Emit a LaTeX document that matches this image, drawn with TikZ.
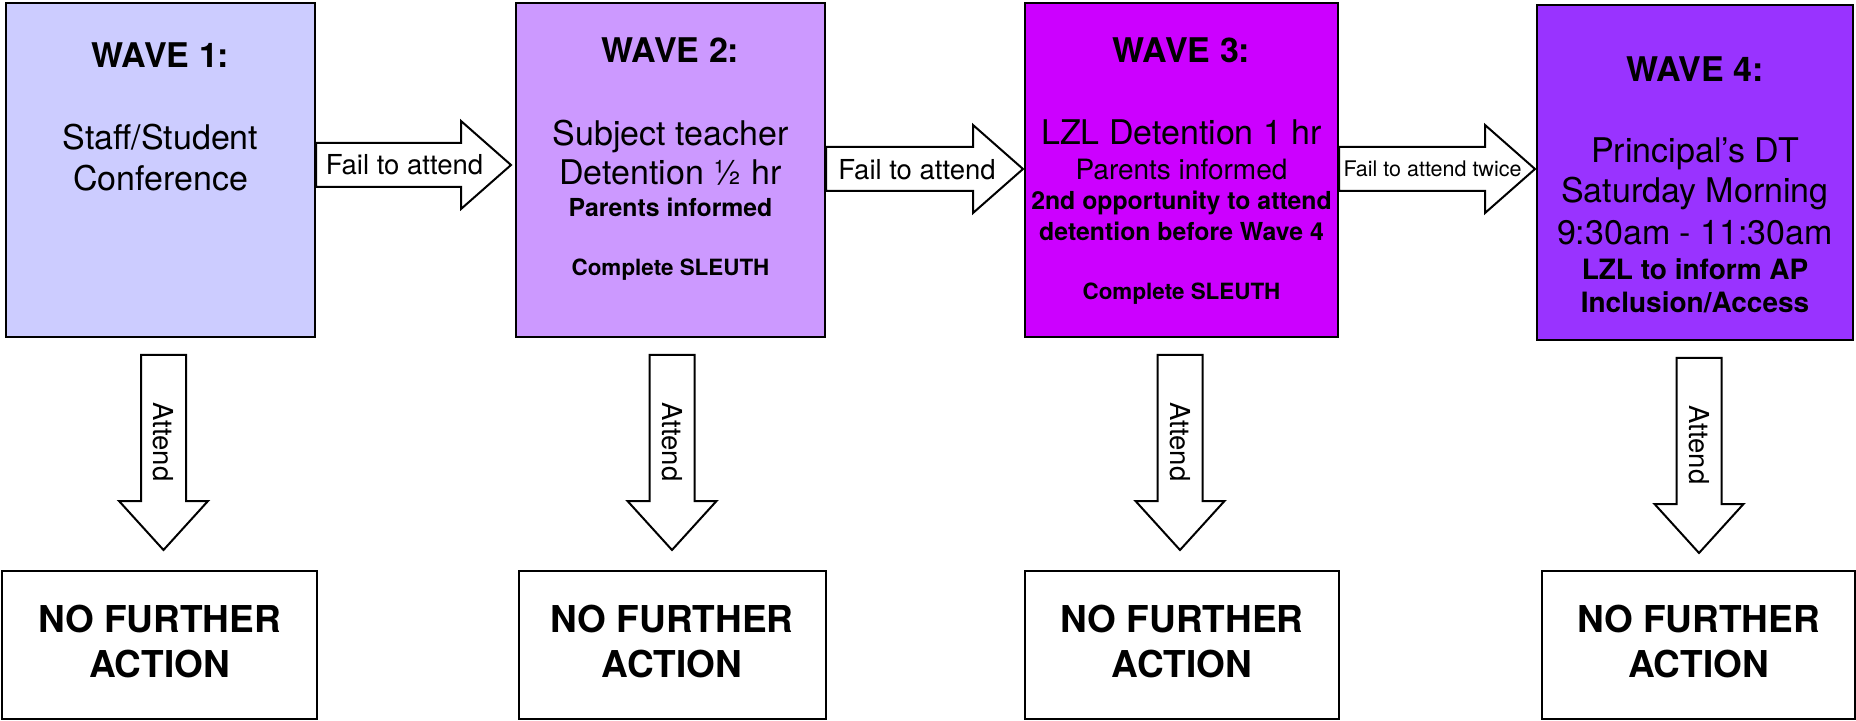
\documentclass[tikz,border=0pt]{standalone}
\usepackage{fontspec}
\setmainfont{TeX Gyre Heros}
\definecolor{waveone}{HTML}{CCCCFF}
\definecolor{wavetwo}{HTML}{CC99FF}
\definecolor{wavethree}{HTML}{CC00FF}
\definecolor{wavefour}{HTML}{9933FF}
\begin{document}
\begin{tikzpicture}[
            x=0.5pt, y=-0.5pt,
            wavebox/.style={draw, line width=1pt, inner sep=0pt, minimum height=167pt},
            nfabox/.style={draw, line width=1pt, fill=white, minimum height=74pt, align=center, text depth=3.5pt, font=\fontsize{18.5}{22.5}\selectfont\bfseries},
            blockarr/.style={draw, line width=1pt, fill=white},
            wavehead/.style={anchor=base, font=\fontsize{17}{20}\selectfont\bfseries},
            wavetext/.style={anchor=base, font=\fontsize{17}{20}\selectfont},
            subtext/.style={anchor=base, font=\fontsize{14}{16}\selectfont},
            note/.style={anchor=base, font=\fontsize{#1}{#1}\selectfont\bfseries},
            lbl/.style={anchor=base, font=\fontsize{13.75}{16}\selectfont}
        ]
        \useasboundingbox (0,0) rectangle (1856,721);

        % the four waves
        \node[wavebox, fill=waveone, minimum width=154.5pt] (w1) at (160.5,170) {};
        \node[wavebox, fill=wavetwo, minimum width=154.5pt] (w2) at (670.5,170) {};
        \node[wavebox, fill=wavethree, minimum width=156.5pt] (w3) at (1181.5,170) {};
        \node[wavebox, fill=wavefour, minimum width=158pt, minimum height=167.5pt] (w4) at (1695,172.5) {};

        % outcome boxes
        \node[nfabox, minimum width=157.5pt] (n1) at (159.5,645) {NO FURTHER\\ACTION};
        \node[nfabox, minimum width=153.5pt] (n2) at (672,645) {NO FURTHER\\ACTION};
        \node[nfabox, minimum width=157pt] (n3) at (1182,645) {NO FURTHER\\ACTION};
        \node[nfabox, minimum width=156.5pt] (n4) at (1698.5,645) {NO FURTHER\\ACTION};

        % fail arrows between waves
        \foreach \i/\j/\cy/\gap in {1/2/165/2pt, 2/3/169/0.5pt, 3/4/169/0.5pt} {
            \coordinate (e\j) at ([xshift=-\gap]w\j.west);
            \coordinate (tail\i) at (w\i.east |- 0,\cy);
            \coordinate (tip\i) at (e\j |- 0,\cy);
            \draw[blockarr] ([shift={(0,-22)}]tail\i) -- ([shift={(-50,-22)}]tip\i) -- ([shift={(-50,-44)}]tip\i)
                -- (tip\i) -- ([shift={(-50,44)}]tip\i) -- ([shift={(-50,22)}]tip\i) -- ([shift={(0,22)}]tail\i) -- cycle;
        }

        % attend arrows
        \foreach \i/\ax in {1/163.5, 2/672, 3/1180, 4/1699} {
            \coordinate (top\i) at (\ax,0 |- w\i.south);
            \draw[blockarr] ([shift={(-22.5,17)}]top\i) -- ++(0,146) -- ++(-22,0) -- ++(44.5,49)
                -- ++(44.5,-49) -- ++(-22,0) -- ++(0,-146) -- cycle;
            \node[lbl, anchor=center, rotate=-90] (att\i) at ([shift={(0,104)}]top\i) {Attend};
        }

        \node[lbl] (f1) at (404.5,175) {Fail to attend};
        \node[lbl] (f2) at (917,180) {Fail to attend};
        \node[lbl, font=\fontsize{10.75}{12}\selectfont] (f3) at (1432.5,177) {Fail to attend twice};

        % wave 1
        \node[wavehead] (h1) at (w1 |- 0,68) {WAVE 1:};
        \node[wavetext] (s1) at (w1 |- 0,150) {Staff/Student};
        \node[wavetext] (c1) at (w1 |- 0,191) {Conference};

        % wave 2
        \node[wavehead] (h2) at (w2 |- 0,63) {WAVE 2:};
        \node[wavetext] (s2) at (w2 |- 0,146) {Subject teacher};
        \node[wavetext] (d2) at (w2 |- 0,185) {Detention ½ hr};
        \node[note=12.4] (p2) at (w2 |- 0,217) {Parents informed};
        \node[note=11.2] (c2) at (w2 |- 0,276) {Complete SLEUTH};

        % wave 3
        \node[wavehead] (h3) at (w3 |- 0,63) {WAVE 3:};
        \node[wavetext] (d3) at (w3 |- 0,145) {LZL Detention 1 hr};
        \node[subtext] (p3) at (w3 |- 0,180) {Parents informed};
        \node[note=12.4] (o3) at (w3 |- 0,210) {2nd opportunity to attend};
        \node[note=12.4] (b3) at (w3 |- 0,241) {detention before Wave 4};
        \node[note=11.2] (c3) at (w3 |- 0,300) {Complete SLEUTH};

        % wave 4
        \node[wavehead] (h4) at (w4 |- 0,82) {WAVE 4:};
        \node[wavetext] (r4) at (w4 |- 0,163) {Principal’s DT};
        \node[wavetext] (m4) at (w4 |- 0,203) {Saturday Morning};
        \node[wavetext] (t4) at (w4 |- 0,245) {9:30am - 11:30am};
        \node[note=14] (l4) at (w4 |- 0,280) {LZL to inform AP};
        \node[note=14] (a4) at (w4 |- 0,313) {Inclusion/Access};
        \end{tikzpicture}
\end{document}
